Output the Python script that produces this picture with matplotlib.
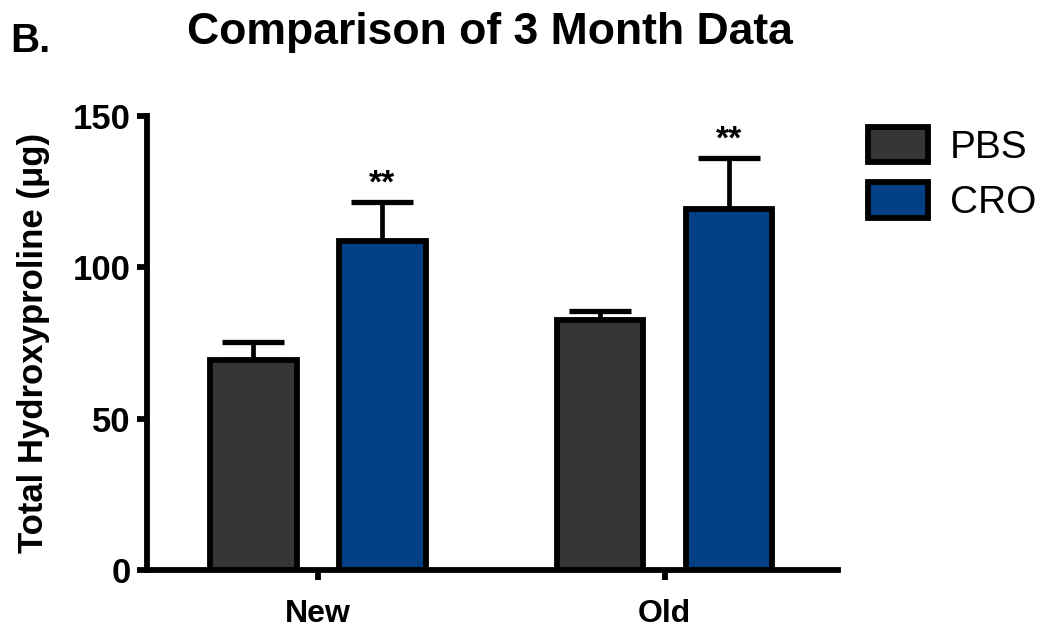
import matplotlib.pyplot as plt
import numpy as np

plt.rcParams['font.family'] = ['Liberation Sans', 'DejaVu Sans']

# data
groups = ['New', 'Old']
pbs_mean = [69.5, 82.5]
pbs_err = [5.8, 3.2]
cro_mean = [108.7, 119.3]
cro_err = [12.8, 16.9]
stars = ['**', '**']

pbs_color = '#363636'
cro_color = '#023f85'
lw = 4.2

fig = plt.figure(figsize=(10.43, 6.31), dpi=100)
ax = fig.add_axes([0.141, 0.0967, 0.662, 0.7195])

x = np.arange(len(groups))
off = 0.186
w = 0.25

ax.bar(x - off, pbs_mean, w, color=pbs_color, edgecolor='black', linewidth=lw,
       label='PBS', zorder=3)
ax.bar(x + off, cro_mean, w, color=cro_color, edgecolor='black', linewidth=lw,
       label='CRO', zorder=3)

# error bars, upper side only
ax.errorbar(x - off, pbs_mean, yerr=[np.zeros(2), pbs_err], fmt='none',
            ecolor='black', elinewidth=3.4, capsize=22, capthick=3.8, zorder=2)
ax.errorbar(x + off, cro_mean, yerr=[np.zeros(2), cro_err], fmt='none',
            ecolor='black', elinewidth=3.4, capsize=22, capthick=3.8, zorder=2)

for xi, m, e, s in zip(x + off, cro_mean, cro_err, stars):
    ax.text(xi, m + e + 0.8, s, ha='center', va='bottom', fontsize=24,
            fontweight='bold')

ax.set_xlim(-0.493, 1.499)
ax.set_ylim(0, 150)
ax.set_yticks([0, 50, 100, 150])
ax.set_xticks(x)
ax.set_xticklabels(groups, fontsize=23, fontweight='bold')
for lab in ax.get_yticklabels():
    lab.set_fontsize(25)
    lab.set_fontweight('bold')

for sp in ['top', 'right']:
    ax.spines[sp].set_visible(False)
for sp in ['left', 'bottom']:
    ax.spines[sp].set_linewidth(lw)
ax.tick_params(axis='both', width=lw, length=7, direction='out')
ax.tick_params(axis='x', pad=14)
ax.tick_params(axis='y', pad=5)

ax.set_ylabel('Total Hydroxyproline (μg)', fontsize=25, fontweight='bold',
              labelpad=16)

fig.text(0.47, 0.948, 'Comparison of 3 Month Data', ha='center', va='center',
         fontsize=32, fontweight='bold')
fig.text(0.010, 0.935, 'B.', ha='left', va='center', fontsize=29,
         fontweight='bold')

ax.legend(loc='upper left', bbox_to_anchor=(868 / 1043, 1 - 127 / 631),
          bbox_transform=fig.transFigure, frameon=False, fontsize=28,
          handlelength=1.55, handleheight=1.02, handletextpad=0.55,
          labelspacing=0.42, borderpad=0, borderaxespad=0)

plt.savefig('out.png', dpi=100)
